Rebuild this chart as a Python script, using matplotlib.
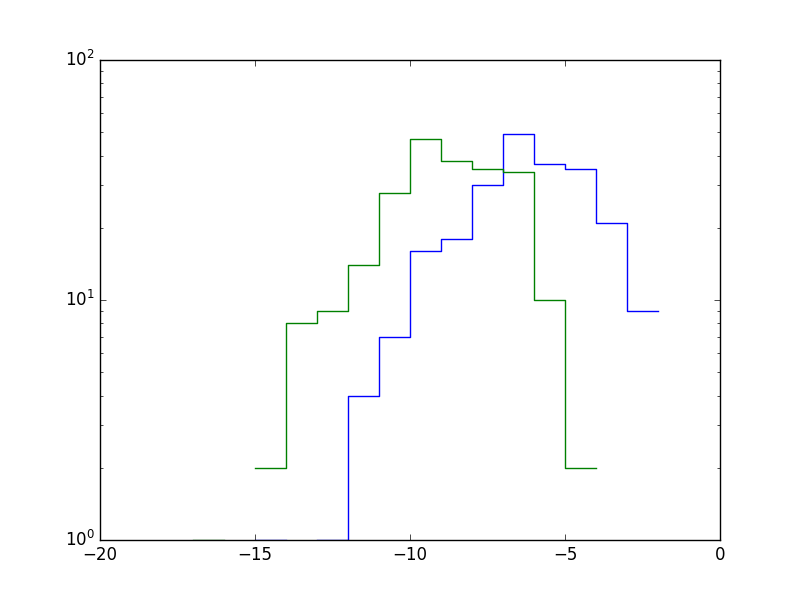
import numpy as np
import matplotlib
matplotlib.use('Agg')
import matplotlib.pyplot as plt

plt.style.use('classic')

# bin left edges and counts (bin width 1)
blue_edges = [-15, -14, -13, -12, -11, -10, -9, -8, -7, -6, -5, -4, -3]
blue_counts = [1, 0, 1, 4, 7, 16, 18, 30, 49, 37, 35, 21, 9]

green_edges = [-17, -16, -15, -14, -13, -12, -11, -10, -9, -8, -7, -6, -5]
green_counts = [1, 0, 2, 8, 9, 14, 28, 47, 38, 35, 34, 10, 2]


def step_xy(edges, counts):
    # add the right edge of the last bin so the last step is drawn
    x = np.array(list(edges) + [edges[-1] + 1], dtype=float)
    y = np.array(list(counts) + [counts[-1]], dtype=float)
    return x, y


fig = plt.figure(figsize=(8, 6), dpi=100, facecolor='white')
ax = fig.add_subplot(111)

x, y = step_xy(blue_edges, blue_counts)
ax.step(x, y, where='post', color='b')
x, y = step_xy(green_edges, green_counts)
ax.step(x, y, where='post', color='g')

ax.set_yscale('log', nonpositive='mask')
ax.set_xlim(-20, 0)
ax.set_ylim(1, 100)

fig.savefig('out.png', dpi=100, facecolor='white')
